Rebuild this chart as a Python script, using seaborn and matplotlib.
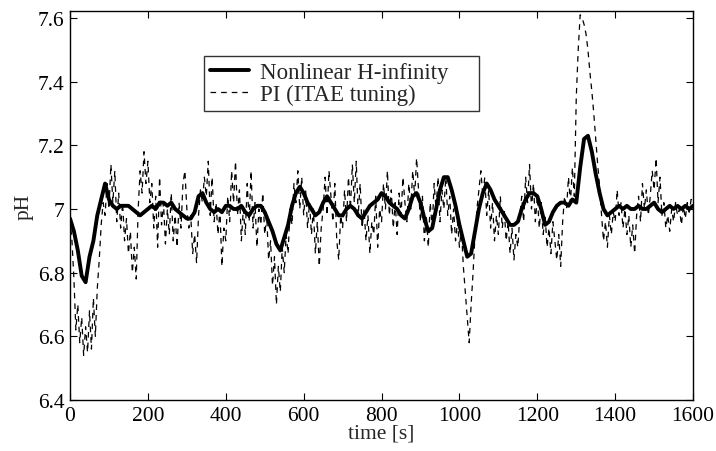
"""
pH response: nonlinear H-infinity controller vs PI (ITAE tuning).
Values read off the reference figure.
"""

# %%
import numpy as np
import pandas as pd
import matplotlib
matplotlib.use('Agg')
import matplotlib.pyplot as plt
import seaborn as sns

# %%
# Nonlinear H-infinity, one value every 10 s from 0 to 1600 s
t_hinf = np.arange(0, 1601, 10)
ph_hinf = [
    6.97, 6.93, 6.87, 6.79, 6.77, 6.85, 6.90, 6.98, 7.03, 7.08,
    7.03, 7.01, 7.00, 7.01, 7.01, 7.01, 7.00, 6.99, 6.98, 6.99,
    7.00, 7.01, 7.00, 7.02, 7.02, 7.01, 7.02, 7.00, 6.99, 6.98,
    6.97, 6.97, 6.99, 7.04, 7.05, 7.02, 7.00, 6.99, 7.00, 6.99,
    7.01, 7.01, 7.00, 7.00, 7.01, 6.99, 6.98, 7.00, 7.01, 7.01,
    6.99, 6.96, 6.93, 6.89, 6.87, 6.91, 6.95, 7.01, 7.05, 7.07,
    7.05, 7.02, 7.00, 6.98, 6.99, 7.02, 7.04, 7.02, 7.00, 6.98,
    6.98, 7.00, 7.01, 7.00, 6.98, 6.97, 6.99, 7.01, 7.02, 7.03,
    7.05, 7.04, 7.02, 7.01, 7.00, 6.98, 6.97, 7.00, 7.04, 7.05,
    7.02, 6.97, 6.93, 6.94, 7.00, 7.06, 7.10, 7.10, 7.06, 7.01,
    6.95, 6.90, 6.85, 6.86, 6.93, 7.00, 7.05, 7.08, 7.06, 7.03,
    7.01, 6.99, 6.97, 6.95, 6.95, 6.96, 7.00, 7.03, 7.05, 7.05,
    7.04, 7.00, 6.95, 6.96, 6.99, 7.01, 7.02, 7.02, 7.01, 7.03,
    7.02, 7.13, 7.22, 7.23, 7.18, 7.11, 7.05, 7.00, 6.98, 6.99,
    7.00, 7.01, 7.00, 7.01, 7.00, 7.00, 7.01, 7.00, 7.00, 7.01,
    7.02, 7.00, 6.99, 7.00, 7.01, 7.00, 7.01, 7.00, 7.01, 7.00,
    7.01,
]

# PI (ITAE tuning), one value every 5 s from 0 to 1600 s
t_pi = np.arange(0, 1601, 5)
ph_pi = [
    6.97, 6.90, 6.78, 6.62, 6.70, 6.58, 6.66, 6.54, 6.63, 6.55,
    6.68, 6.56, 6.72, 6.60, 6.75, 6.84, 6.95, 7.02, 6.98, 7.08,
    7.00, 7.14, 7.02, 7.12, 6.96, 7.05, 6.94, 7.02, 6.90, 6.97,
    6.86, 6.93, 6.80, 6.88, 6.78, 7.00, 7.12, 7.05, 7.18, 7.08,
    7.15, 7.02, 7.08, 6.94, 7.04, 6.88, 7.10, 6.95, 7.02, 6.89,
    7.00, 6.92, 7.05, 6.90, 6.98, 6.88, 7.02, 6.94, 7.08, 7.12,
    7.00, 6.94, 6.98, 6.86, 6.92, 6.83, 6.98, 7.06, 7.02, 7.10,
    7.04, 7.15, 6.98, 7.10, 6.96, 7.02, 6.92, 7.00, 6.82, 6.94,
    6.90, 7.04, 6.96, 7.12, 7.02, 7.15, 6.98, 7.06, 6.90, 7.00,
    6.92, 7.08, 6.96, 7.12, 6.94, 7.02, 6.88, 7.00, 6.95, 7.05,
    6.92, 6.98, 6.84, 6.90, 6.76, 6.85, 6.70, 6.82, 6.74, 6.88,
    6.80, 6.92, 6.86, 7.00, 6.95, 7.08, 7.02, 7.12, 7.00, 7.10,
    6.98, 7.06, 6.94, 7.02, 6.92, 7.00, 6.86, 6.96, 6.82, 6.94,
    7.00, 7.10, 6.98, 7.12, 7.04, 6.96, 7.08, 6.90, 6.84, 6.98,
    6.94, 7.06, 6.96, 7.10, 7.00, 7.14, 7.02, 7.15, 6.98, 7.08,
    6.94, 7.00, 6.90, 6.98, 6.86, 6.96, 6.92, 7.04, 6.88, 7.00,
    6.96, 7.08, 7.00, 7.12, 6.98, 7.06, 6.94, 7.02, 6.92, 7.05,
    6.98, 7.10, 7.02, 6.96, 7.08, 7.00, 7.12, 7.04, 7.16, 7.06,
    6.96, 7.04, 6.90, 6.98, 6.88, 7.02, 6.94, 7.08, 7.00, 7.10,
    6.96, 7.06, 7.00, 7.10, 6.98, 7.04, 6.92, 7.00, 6.90, 6.96,
    6.88, 6.94, 6.82, 6.74, 6.66, 6.58, 6.70, 6.80, 6.92, 7.00,
    7.06, 7.12, 7.04, 7.10, 6.98, 7.06, 6.94, 7.02, 6.90, 6.98,
    6.92, 7.04, 6.94, 7.00, 6.90, 6.96, 6.86, 6.94, 6.84, 6.92,
    6.88, 6.98, 7.04, 6.96, 7.10, 7.02, 7.14, 7.00, 7.08, 6.96,
    7.04, 6.94, 7.02, 6.92, 6.98, 6.88, 6.94, 6.86, 6.96, 6.90,
    6.84, 6.92, 6.82, 6.96, 7.04, 7.00, 7.10, 7.02, 7.13, 7.04,
    7.35, 7.50, 7.61, 7.60, 7.58, 7.55, 7.50, 7.43, 7.37, 7.30,
    7.22, 7.14, 7.07, 6.98, 6.90, 6.96, 6.88, 6.98, 6.92, 6.99,
    6.96, 7.06, 6.98, 7.02, 6.94, 7.00, 6.92, 6.98, 6.88, 6.95,
    6.86, 6.98, 7.04, 6.96, 7.08, 7.00, 7.06, 6.98, 7.04, 7.12,
    7.06, 7.16, 7.02, 7.10, 6.98, 7.02, 6.94, 6.98, 6.93, 7.00,
    6.96, 7.02, 6.98, 7.00, 6.95, 7.01, 6.97, 7.02, 6.99, 7.03,
    7.01,
]

x_ticks = np.arange(0, 1601, 200)
y_ticks = [6.4, 6.6, 6.8, 7.0, 7.2, 7.4, 7.6]
y_tick_labels = ['6.4', '6.6', '6.8', '7', '7.2', '7.4', '7.6']

df_hinf = pd.DataFrame({'time': t_hinf, 'pH': ph_hinf})
df_pi = pd.DataFrame({'time': t_pi, 'pH': ph_pi})

# %%
sns.set_style('ticks')
plt.rcParams['font.family'] = ['Liberation Serif', 'DejaVu Serif']
plt.rcParams['font.size'] = 15

fig = plt.figure(figsize=(7.16, 4.52), dpi=100)
ax = fig.add_axes([0.0978, 0.1128, 0.8702, 0.8607])

sns.lineplot(data=df_hinf, x='time', y='pH', ax=ax, color='black',
             linewidth=2.8, estimator=None, label='Nonlinear H-infinity', zorder=3)
sns.lineplot(data=df_pi, x='time', y='pH', ax=ax, color='black',
             linewidth=0.9, linestyle=(0, (4.5, 4)), estimator=None,
             label='PI (ITAE tuning)', zorder=2)

ax.set_xlim(0, 1600)
ax.set_ylim(6.4, 7.622)
ax.set_xticks(x_ticks)
ax.set_yticks(y_ticks)
ax.set_yticklabels(y_tick_labels)
ax.set_xlabel('time [s]', fontsize=15.5, labelpad=-1)
ax.set_ylabel('pH', fontsize=15.5, labelpad=3)

# MATLAB-like box with inward ticks on all sides
for side in ax.spines.values():
    side.set_visible(True)
    side.set_linewidth(1.0)
    side.set_color('black')
ax.tick_params(direction='in', top=True, right=True, length=5, width=0.8,
               labelsize=15.5, colors='black', pad=4)

# legend box stretched to the reference width, content left-aligned
leg = ax.legend(loc='upper left', bbox_to_anchor=(0.215, 0.6, 0.4414, 0.284),
                mode='expand', borderaxespad=0,
                frameon=True, fancybox=False, fontsize=16.5, handlelength=1.7,
                borderpad=0.25, labelspacing=0.05, handletextpad=0.5)
leg.get_frame().set_edgecolor('black')
leg.get_frame().set_linewidth(1.0)

fig.savefig('out.png', dpi=100)
